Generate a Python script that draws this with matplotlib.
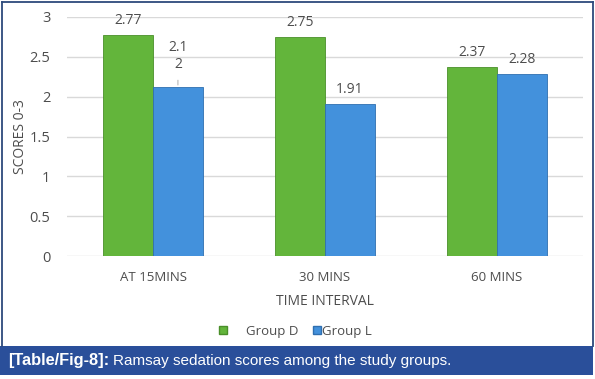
import matplotlib
matplotlib.use("Agg")
import matplotlib.pyplot as plt
from matplotlib.lines import Line2D
from matplotlib.patches import Rectangle
import numpy as np

categories = ["AT 15MINS", "30 MINS", "60 MINS"]
group_d = [2.77, 2.75, 2.37]
group_l = [2.12, 1.91, 2.28]
labels_d = ["2.77", "2.75", "2.37"]
labels_l = ["2.1\n2", "1.91", "2.28"]
series_names = ["Group D", "Group L"]
yticks = [0, 0.5, 1, 1.5, 2, 2.5, 3]
ytick_labels = ["0", "0.5", "1", "1.5", "2", "2.5", "3"]

W, H = 595, 379
fig = plt.figure(figsize=(W / 100, H / 100), dpi=100)

def fx(px):
    return px / W

def fy(py):
    return 1 - py / H

green = "#63b53b"
blue = "#4391dc"
txt = "#4d4d4d"
font = "Open Sans"

ax = fig.add_axes([fx(67), fy(256), fx(583) - fx(67), fy(17) - fy(256)])
x = np.arange(len(categories))
bw = 0.29
ax.bar(x - bw / 2, group_d, width=bw, color=green, edgecolor="#4a8f2a", linewidth=0.6, zorder=3)
ax.bar(x + bw / 2, group_l, width=bw, color=blue, edgecolor="#2f6fb0", linewidth=0.6, zorder=3)
ax.set_xlim(-0.5, 2.5)
ax.set_ylim(0, 3)
ax.set_yticks(yticks)
ax.set_yticklabels(ytick_labels, fontsize=10.5, color=txt, family=font)
ax.set_xticks(x)
ax.set_xticklabels(categories, fontsize=9.5, color=txt, family=font)
ax.tick_params(length=0, pad=12, axis="y")
ax.tick_params(length=0, pad=11, axis="x")
ax.grid(axis="y", color="#d9d9d9", linewidth=1, zorder=0)
for s in ax.spines.values():
    s.set_visible(False)
ax.set_ylabel("SCORES 0-3", fontsize=10, color=txt, family=font, labelpad=1)
ax.set_xlabel("TIME INTERVAL", fontsize=10, color=txt, family=font, labelpad=7)

for i in range(len(categories)):
    ax.annotate(labels_d[i], (x[i] - bw / 2, group_d[i]), xytext=(0, 5), textcoords="offset points",
                ha="center", va="bottom", fontsize=10, color=txt, family=font)
    if "\n" in labels_l[i]:
        ax.annotate(labels_l[i], (x[i] + bw / 2, group_l[i]), xytext=(0, 11), textcoords="offset points",
                    ha="center", va="bottom", fontsize=10, color=txt, family=font, linespacing=1.15,
                    arrowprops=dict(arrowstyle="-", color="#a0a0a0", lw=0.6, shrinkA=4, shrinkB=1.5))
    else:
        ax.annotate(labels_l[i], (x[i] + bw / 2, group_l[i]), xytext=(0, 5), textcoords="offset points",
                    ha="center", va="bottom", fontsize=10, color=txt, family=font)

# legend drawn manually to match spacing
fig.add_artist(Line2D([fx(223)], [fy(330)], marker="s", markersize=5.5, linestyle="none",
                      markerfacecolor=green, markeredgecolor="#4a8f2a"))
fig.text(fx(246), fy(331), series_names[0], fontsize=9.5, color=txt, family=font, va="center", ha="left")
fig.add_artist(Line2D([fx(317)], [fy(330)], marker="s", markersize=5.5, linestyle="none",
                      markerfacecolor=blue, markeredgecolor="#2f6fb0"))
fig.text(fx(322), fy(331), series_names[1], fontsize=9.5, color=txt, family=font, va="center", ha="left")

# outer border
border = "#2d4a7c"
fig.add_artist(Line2D([fx(1.5), fx(1.5)], [fy(346), fy(1.5)], color=border, lw=1.3))
fig.add_artist(Line2D([fx(1.5), fx(592.5)], [fy(1.5), fy(1.5)], color=border, lw=1.3))
fig.add_artist(Line2D([fx(592.5), fx(592.5)], [fy(1.5), fy(346)], color=border, lw=1.3))

# caption band
fig.add_artist(Rectangle((0, fy(375)), fx(593), fy(346) - fy(375), color="#2a4f9a", lw=0))
fig.text(fx(8), fy(361), "[Table/Fig-8]:", color="white", fontsize=11.8, fontweight="bold",
         family="Liberation Sans", va="center", ha="left")
fig.text(fx(113), fy(361), "Ramsay sedation scores among the study groups.", color="white", fontsize=11,
         family="Liberation Sans", va="center", ha="left")

fig.savefig("out.png", dpi=100)
